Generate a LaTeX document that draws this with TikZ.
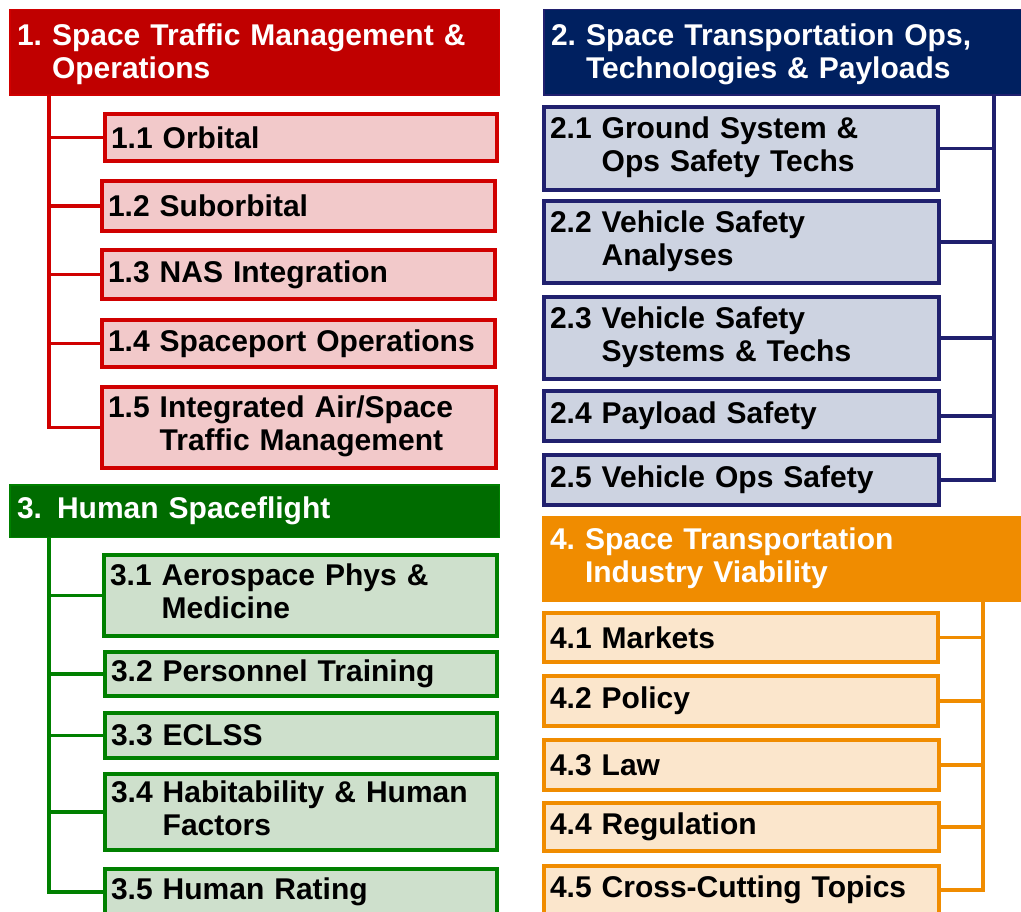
\documentclass[tikz,border=0pt]{standalone}
\usepackage{fontspec}
\setmainfont{Liberation Sans}
\definecolor{redH}{RGB}{192,0,0}
\definecolor{redB}{RGB}{208,0,0}
\definecolor{redF}{RGB}{242,201,202}
\definecolor{navyH}{RGB}{0,32,96}
\definecolor{navyB}{RGB}{32,32,110}
\definecolor{navyF}{RGB}{205,211,225}
\definecolor{grnH}{RGB}{0,108,0}
\definecolor{grnB}{RGB}{0,128,0}
\definecolor{grnF}{RGB}{206,224,204}
\definecolor{orH}{RGB}{240,140,0}
\definecolor{orF}{RGB}{251,230,204}
\tikzset{
  txt/.style={font=\fontsize{30}{33}\selectfont\bfseries},
  childbox/.style={txt,draw,line width=4pt,inner xsep=6pt,inner ysep=0pt,align=left,text=black},
  headbox/.style={txt,draw,line width=1.5pt,inner xsep=7.25pt,inner ysep=0pt,align=left,text=white},
  c1/.style={draw=redB,fill=redF},
  c2/.style={draw=navyB,fill=navyF},
  c3/.style={draw=grnB,fill=grnF},
  c4/.style={draw=orH,fill=orF},
  h1s/.style={draw=redB,fill=redH},
  h2s/.style={draw=navyB,fill=navyH},
  h3s/.style={draw=grnB,fill=grnH},
  h4s/.style={draw=orH,fill=orH},
  con/.style={line width=3.5pt},
}
\newcommand\mkchild[7]{%
  \pgfmathsetmacro\bxc{(#3+#5)/2}%
  \pgfmathsetmacro\byc{(#4+#6)/2}%
  \pgfmathsetmacro\btw{#5-#3-16}%
  \pgfmathsetmacro\bmh{#6-#4-4}%
  \node[childbox,#2,text width=\btw pt,minimum height=\bmh pt] (#1) at (\bxc,\byc) {#7};%
}
\newcommand\mkhead[7]{%
  \pgfmathsetmacro\bxc{(#3+#5)/2}%
  \pgfmathsetmacro\byc{(#4+#6)/2}%
  \pgfmathsetmacro\btw{#5-#3-16}%
  \pgfmathsetmacro\bmh{#6-#4-1.5}%
  \node[headbox,#2,text width=\btw pt,minimum height=\bmh pt] (#1) at (\bxc,\byc) {#7};%
}
\newcommand\two[3]{\begin{tabular}{@{}l@{\ }l@{}}#1 & #2\\ & #3\end{tabular}}
\newcommand\twoh[3]{\begin{tabular}{@{}l@{\ }l@{}}\rule{0pt}{29pt}#1 & #2\\ & #3\end{tabular}}
\begin{document}
\begin{tikzpicture}[x=1pt,y=-1pt]
\useasboundingbox (0,0) rectangle (1021,912);
\clip (0,0) rectangle (1021,912);
% trunk positions
\coordinate (t1) at (49,0);
\coordinate (t2) at (994,0);
\coordinate (t3) at (49,0);
\coordinate (t4) at (983,0);
% headers
\mkhead{h1}{h1s}{9}{9}{500}{96}{\twoh{1.}{Space Traffic Management \&}{Operations}}
\mkhead{h2}{h2s}{543}{9}{1030}{96}{\twoh{2.}{Space Transportation Ops,}{Technologies \& Payloads}}
\mkhead{h3}{h3s}{9}{484}{500}{538}{3. Human Spaceflight}
\mkhead{h4}{h4s}{542}{516}{1030}{602}{\two{4.}{Space Transportation}{Industry Viability}}
% group 1
\mkchild{c11}{c1}{103}{112}{499}{163}{1.1 Orbital}
\mkchild{c12}{c1}{100}{179}{497}{233}{1.2 Suborbital}
\mkchild{c13}{c1}{100}{248}{497}{301}{1.3 NAS Integration}
\mkchild{c14}{c1}{100}{318}{497}{369}{1.4 Spaceport Operations}
\mkchild{c15}{c1}{100}{385}{498}{470}{\two{1.5}{Integrated Air/Space}{Traffic Management}}
% group 2
\mkchild{c21}{c2}{542}{105}{940}{192}{\two{2.1}{Ground System \&}{Ops Safety Techs}}
\mkchild{c22}{c2}{542}{199}{941}{285}{\two{2.2}{Vehicle Safety}{Analyses}}
\mkchild{c23}{c2}{542}{295}{941}{381}{\two{2.3}{Vehicle Safety}{Systems \& Techs}}
\mkchild{c24}{c2}{542}{389}{941}{443}{2.4 Payload Safety}
\mkchild{c25}{c2}{542}{453}{941}{507}{2.5 Vehicle Ops Safety}
% group 3
\mkchild{c31}{c3}{102}{553}{499}{638}{\two{3.1}{Aerospace Phys \&}{Medicine}}
\mkchild{c32}{c3}{103}{650}{499}{698}{3.2 Personnel Training}
\mkchild{c33}{c3}{103}{711}{499}{760}{3.3 ECLSS}
\mkchild{c34}{c3}{103}{772}{499}{852}{\two{3.4}{Habitability \& Human}{Factors}}
\mkchild{c35}{c3}{103}{867}{499}{917}{3.5 Human Rating}
% group 4
\mkchild{c41}{c4}{542}{611}{940}{664}{4.1 Markets}
\mkchild{c42}{c4}{542}{674}{940}{728}{4.2 Policy}
\mkchild{c43}{c4}{542}{738}{941}{792}{4.3 Law}
\mkchild{c44}{c4}{542}{801}{941}{853}{4.4 Regulation}
\mkchild{c45}{c4}{542}{864}{941}{916}{4.5 Cross-Cutting Topics}
% connectors
\foreach \c in {c11,c12,c13,c14,c15}
  \draw[con,redB] (t1 |- h1.south) |- (\c.west);
\foreach \c in {c21,c22,c23,c24,c25}
  \draw[con,navyB] (t2 |- h2.south) |- (\c.east);
\foreach \c in {c31,c32,c33,c34,c35}
  \draw[con,grnB] (t3 |- h3.south) |- (\c.west);
\foreach \c in {c41,c42,c43,c44,c45}
  \draw[con,orH] (t4 |- h4.south) |- (\c.east);
\end{tikzpicture}
\end{document}
